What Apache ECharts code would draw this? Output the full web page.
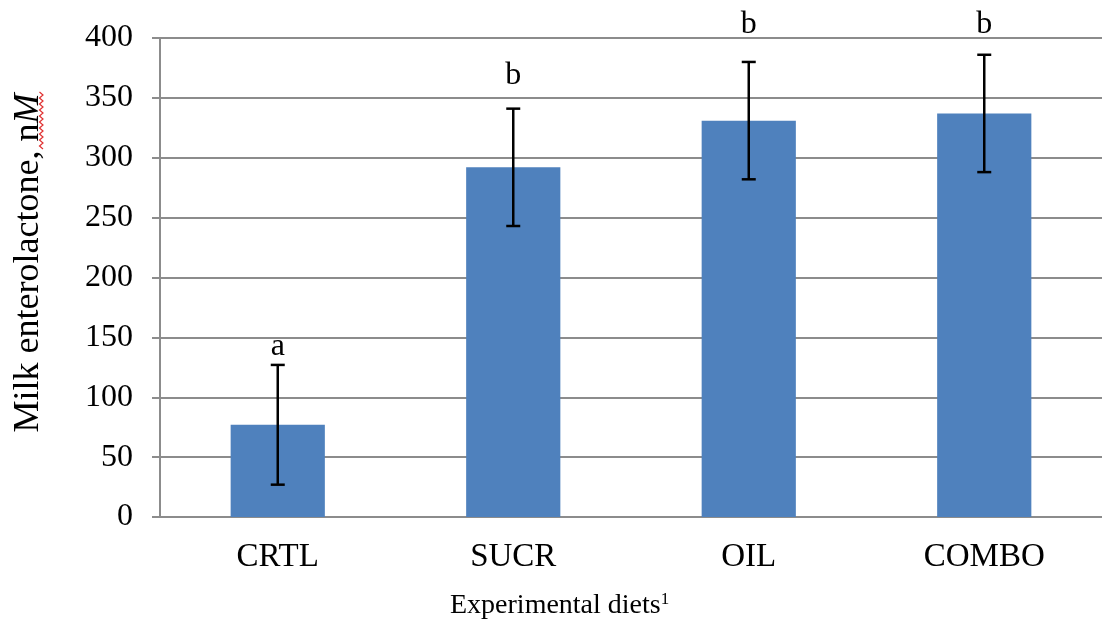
<!DOCTYPE html>
<html>
<head>
<meta charset="utf-8">
<script src="https://cdn.jsdelivr.net/npm/echarts@6/dist/echarts.min.js"></script>
<style>html,body{margin:0;padding:0;background:#fff}#c{width:1102px;height:627px}</style>
</head>
<body>
<div id="c"></div>
<script>
const categories = ['CRTL', 'SUCR', 'OIL', 'COMBO'];
const means = [77, 292, 331, 337];
const errors = [50, 49, 49, 49];
const letters = ['a', 'b', 'b', 'b'];
const letterValues = [129, 355, 398, 398];
const yTicks = [0, 50, 100, 150, 200, 250, 300, 350, 400];

const FONT = '"Liberation Serif", "Times New Roman", serif';
const chart = echarts.init(document.getElementById('c'));
const errData = categories.map((c, i) => [i, means[i] - errors[i], means[i] + errors[i], letterValues[i]]);

// spell-check style red squiggle under "nM" in the y-axis title
const squiggle = [];
for (let k = 0; k <= 19; k++) squiggle.push([k % 2 ? 43 : 39.5, 92 + k * 3]);

chart.setOption({
  animation: false,
  backgroundColor: '#fff',
  grid: { left: 160, top: 38, bottom: 110, width: 950, containLabel: false },
  xAxis: {
    type: 'category',
    data: categories,
    axisLine: { lineStyle: { color: '#8c8c8c', width: 2 } },
    axisTick: { show: false },
    axisLabel: { color: '#000', fontFamily: FONT, fontSize: 33, margin: 24 }
  },
  yAxis: {
    type: 'value',
    min: yTicks[0],
    max: yTicks[yTicks.length - 1],
    interval: 50,
    axisLine: { show: true, lineStyle: { color: '#8c8c8c', width: 2 } },
    axisTick: { show: true, length: 8, lineStyle: { color: '#8c8c8c', width: 2 } },
    splitLine: { lineStyle: { color: '#8c8c8c', width: 2 } },
    axisLabel: { color: '#000', fontFamily: FONT, fontSize: 32, margin: 27 }
  },
  series: [
    {
      type: 'bar',
      data: means,
      barWidth: '40%',
      itemStyle: { color: '#4f81bd' }
    },
    {
      type: 'custom',
      data: errData,
      z: 10,
      clip: false,
      renderItem: function (params, api) {
        const i = params.dataIndex;
        const lo = api.coord([api.value(0), api.value(1)]);
        const hi = api.coord([api.value(0), api.value(2)]);
        const t = api.coord([api.value(0), api.value(3)]);
        const hw = 7;
        const st = { stroke: '#000', lineWidth: 2.5 };
        return {
          type: 'group',
          children: [
            { type: 'line', shape: { x1: hi[0], y1: hi[1], x2: lo[0], y2: lo[1] }, style: st },
            { type: 'line', shape: { x1: hi[0] - hw, y1: hi[1], x2: hi[0] + hw, y2: hi[1] }, style: st },
            { type: 'line', shape: { x1: lo[0] - hw, y1: lo[1], x2: lo[0] + hw, y2: lo[1] }, style: st },
            { type: 'text', x: t[0], y: t[1], style: { text: letters[i], align: 'center', verticalAlign: 'bottom', font: '32px ' + FONT, fill: '#000' } }
          ]
        };
      }
    }
  ],
  graphic: [
    {
      type: 'text',
      x: 29, y: 263,
      rotation: Math.PI / 2,
      style: {
        text: 'Milk enterolactone, n{it|M}',
        align: 'center', verticalAlign: 'middle',
        font: '36px ' + FONT, fill: '#000',
        rich: { it: { fontStyle: 'italic', fontFamily: FONT, fontSize: 36, fill: '#000' } }
      }
    },
    {
      type: 'polyline',
      shape: { points: squiggle },
      style: { stroke: '#e03030', lineWidth: 1.2, fill: null }
    },
    {
      type: 'text',
      x: 450, y: 606,
      style: {
        text: 'Experimental diets{s|1}',
        align: 'left', verticalAlign: 'middle',
        font: '28px ' + FONT, fill: '#000',
        rich: { s: { fontFamily: FONT, fontSize: 17, fill: '#000', padding: [0, 0, 13, 0] } }
      }
    }
  ]
});
</script>
</body>
</html>
